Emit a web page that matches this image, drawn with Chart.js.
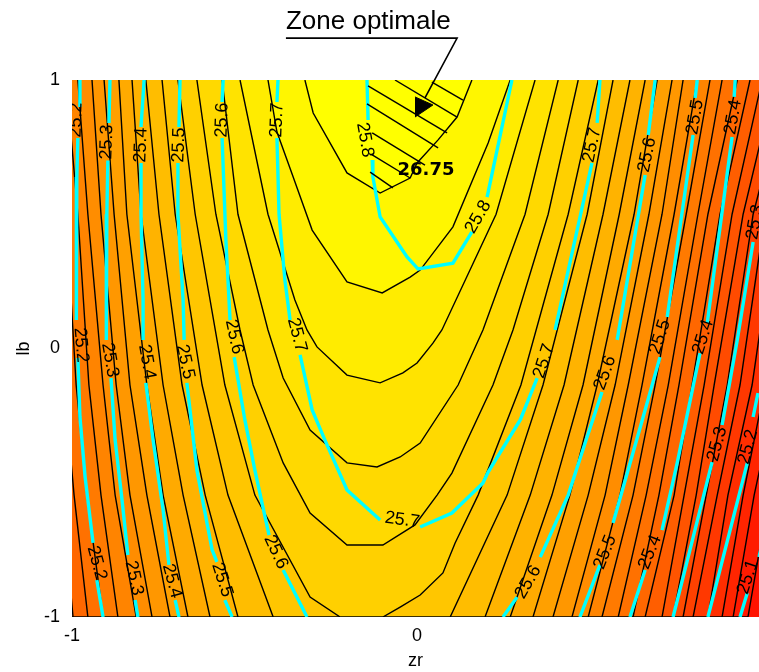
<!DOCTYPE html>
<html>
<head>
<meta charset="utf-8">
<title>Zone optimale</title>
<script src="https://cdn.jsdelivr.net/npm/chart.js@4"></script>
<style>
  html, body { margin: 0; padding: 0; background: #fff; overflow: hidden; }
  canvas { display: block; }
</style>
</head>
<body>
<canvas id="contourChart" width="759" height="672"></canvas>
<script>
// Axis ticks
const xTicks = [-1, 0];
const yTicks = [-1, 0, 1];

// Closed contours around the optimum, inner to outer
const innerContours = [
  [[-.325,1],[-.301,.877],[-.203,.654],[-.107,.579],[-.02,.635],[0,.691],[.061,.777],[.116,.862],[.159,1]],
  [[-.432,1],[-.406,.806],[-.359,.639],[-.304,.441],[-.203,.248],[-.101,.207],[-.02,.266],[.009,.292],[.104,.453],[.206,.765],[.27,1]],
  [[-.513,1],[-.432,.5],[-.354,.181],[-.319,.069],[-.29,.006],[-.203,-.099],[-.107,-.128],[-.041,-.091],[0,-.054],[.046,.02],[.072,.069],[.229,.5],[.342,1]],
  [[-.565,1],[-.519,.5],[-.432,.069],[-.388,-.11],[-.31,-.304],[-.203,-.426],[-.116,-.441],[-.049,-.404],[.009,-.352],[.119,-.136],[.191,.069],[.313,.5],[.409,1]],
  [[-.638,1],[-.583,.5],[-.513,.069],[-.475,-.136],[-.388,-.426],[-.31,-.613],[-.203,-.732],[-.099,-.732],[-.006,-.657],[.058,-.546],[.101,-.464],[.22,-.136],[.278,.069],[.38,.5],[.467,1]],
  [[-.693,1],[-.643,.5],[-.557,-.136],[-.47,-.546],[-.31,-.926],[-.223,-1],[-.099,-1],[-.049,-.963],[.009,-.918],[.075,-.836],[.11,-.725],[.177,-.546],[.301,-.136],[.438,.5],[.525,1]]
];

// Outer contours: x read at each of these lb values
const rowY = [1, .5, -.136, -.546, -1];
const leftBranchX = [
  [-.739,-.701,-.623,-.548,-.417],
  [-.786,-.748,-.681,-.614,-.519],
  [-.826,-.8,-.736,-.678,-.6],
  [-.864,-.841,-.783,-.736,-.664],
  [-.907,-.878,-.832,-.783,-.716],
  [-.942,-.916,-.872,-.832,-.768],
  [-.983,-.954,-.91,-.875,-.814],
  [-1.017,-.983,-.951,-.916,-.867],
  [-1.049,-1.017,-.988,-.957,-.91],
  [-1.081,-1.049,-1.023,-.994,-.954],
  [-1.113,-1.078,-1.058,-1.029,-.997]
];
const rightBranchX = [
  [.568,.493,.365,.261,.096],
  [.617,.539,.426,.328,.197],
  [.661,.586,.481,.391,.27],
  [.696,.629,.522,.443,.336],
  [.739,.672,.574,.496,.394],
  [.771,.71,.612,.545,.449],
  [.812,.745,.652,.588,.496],
  [.849,.78,.69,.626,.536],
  [.884,.814,.728,.664,.583],
  [.928,.843,.759,.701,.626],
  [.965,.878,.797,.745,.661],
  [1,.913,.832,.774,.71],
  [1.038,.945,.861,.809,.742],
  [1.075,.974,.899,.838,.771],
  [1.11,1.009,.936,.87,.8],
  [1.145,1.043,.971,.901,.843],
  [1.183,1.081,1.009,.945,.884],
  [1.22,1.116,1.046,.977,.916],
  [1.255,1.154,1.081,1.02,.959]
];

// Cyan contours of the second response, null = gap left for a label
const cyanLines = [
  [[-.977,1],[-.977,.899],null,[-.983,.784],[-.986,.639],[-.986,.5],[-.988,.3],[-.988,.106],null,[-.983,-.035],[-.977,-.255],[-.962,-.479],[-.939,-.724],null,[-.928,-.862],[-.91,-1]],
  [[-.89,1],[-.893,.84],null,[-.896,.7],[-.899,.5],[-.901,.181],[-.9,.032],null,[-.887,-.11],[-.875,-.341],[-.855,-.564],[-.838,-.769],null,[-.817,-.937],[-.809,-1]],
  [[-.791,1],[-.8,.825],null,[-.8,.691],[-.8,.5],[-.794,.181],[-.794,.032],null,[-.786,-.128],[-.765,-.341],[-.736,-.601],[-.719,-.806],null,[-.701,-.937],[-.69,-1]],
  [[-.687,1],[-.69,.825],null,[-.693,.691],[-.693,.5],[-.678,.181],[-.675,.032],null,[-.667,-.128],[-.638,-.453],[-.594,-.75],[-.58,-.795],null,[-.557,-.937],[-.536,-1]],
  [[-.562,1],[-.565,.918],null,[-.565,.784],[-.554,.404],[-.542,.106],null,[-.53,-.032],[-.499,-.266],[-.47,-.453],[-.429,-.695],null,[-.388,-.825],[-.319,-1]],
  [[-.403,1],[-.406,.918],null,[-.406,.784],[-.4,.5],[-.383,.255],[-.368,.106],null,[-.339,-.024],[-.304,-.229],[-.267,-.341],[-.203,-.527],[-.107,-.639],null,[.009,-.665],[.101,-.613],[.191,-.501],[.206,-.46],[.299,-.266],[.348,-.11],null,[.4,.069],[.507,.691],null,[.522,.84],[.53,1]],
  [[-.145,1],[-.142,.851],null,[-.13,.702],[-.128,.639],[-.107,.49],[-.029,.341],[.003,.296],[.104,.318],[.159,.434],null,[.203,.564],[.275,1]],
  [[.69,1],[.67,.795],null,[.661,.646],[.58,.032],null,[.536,-.162],[.487,-.352],[.438,-.546],[.357,-.777],null,[.29,-.926],[.249,-1]],
  [[.812,1],[.806,.933],null,[.8,.795],[.725,.117],null,[.704,-.032],[.661,-.229],[.568,-.65],null,[.53,-.806],[.472,-1]],
  [[.922,1],[.919,.937],null,[.913,.788],[.841,.095],null,[.82,-.017],[.754,-.426],[.71,-.676],null,[.661,-.825],[.617,-1]],
  [[.974,.397],[.928,.032],[.884,-.285],null,[.855,-.423],[.742,-1]],
  [[.988,-.166],[.974,-.255],null,[.957,-.426],[.843,-1]],
  [[1,-.724],[.991,-.777],null,[.957,-.911],[.936,-1]]
];

// Contour labels
const labelText = ["25.2","25.3","25.4","25.5","25.6","25.7","25.2","25.3","25.4","25.5","25.6","25.7","25.2","25.3","25.4","25.5","25.6","25.7","25.8","25.8","25.7","25.6","25.5","25.4","25.3","25.7","25.6","25.5","25.4","25.3","25.2","25.6","25.5","25.4","25.1"];
const labelX = [-.988,-.899,-.8,-.69,-.565,-.406,-.974,-.89,-.783,-.672,-.53,-.348,-.928,-.82,-.71,-.565,-.409,-.043,-.151,.177,.507,.667,.806,.916,.98,.368,.545,.704,.829,.87,.959,.322,.545,.675,.959];
const labelY = [.851,.769,.758,.758,.851,.851,.013,-.043,-.05,-.05,.043,.05,-.799,-.855,-.866,-.862,-.758,-.639,.777,.49,.758,.721,.862,.862,.471,-.047,-.091,.043,.043,-.356,-.367,-.87,-.758,-.758,-.851];
const labelAngle = [-88,-88,-88,-88,-88,-88,85,80,80,78,78,75,75,78,75,72,65,8,80,-60,-78,-78,-80,-80,-80,-72,-70,-72,-72,-75,-75,-60,-68,-68,-72];

// Hatching of the optimal zone and its callout
const hatchLines = [
  [[.043,.992],[.133,.925]],
  [[-.064,1],[.116,.862]],
  [[-.142,.978],[.087,.803]],
  [[-.145,.911],[.061,.747]],
  [[-.13,.803],[.023,.683]],
  [[-.13,.721],[-.02,.635]],
  [[-.136,.657],[-.07,.598]]
];
const calloutLine = [[-.38,1.156],[.116,1.156],[.023,.933]];
const calloutArrow = [[-.006,.937],[.046,.907],[-.006,.862]];
const calloutText = { text: "Zone optimale", x: -.38, y: 1.19 };
const optimumText = { text: "26.75", x: .026, y: .665 };

const toPoints = list => list.map(p => p ? { x: p[0], y: p[1] } : { x: NaN, y: NaN });

// Build one closed outline per contour, inner to outer
const outlines = innerContours.map(c => c);
rightBranchX.forEach((right, i) => {
  const left = leftBranchX[i]
    ? leftBranchX[i].map((x, r) => [x, rowY[r]])
    : [[-1.2, 1], [-1.2, -1]];
  const rightSide = right.map((x, r) => [x, rowY[r]]).reverse();
  outlines.push(left.concat(rightSide));
});

// Bands go from yellow at the optimum to red at the far side
const bandColor = i => `rgb(255,${Math.round(255 - 9.5 * i)},0)`;

const datasets = [];
outlines.forEach((outline, i) => {
  datasets.push({
    data: toPoints(outline),
    showLine: true,
    fill: "shape",
    backgroundColor: bandColor(i),
    borderColor: "#000",
    borderWidth: 1.4,
    pointRadius: 0,
    order: 10 + i
  });
});
cyanLines.forEach(line => {
  datasets.push({
    data: toPoints(line),
    showLine: true,
    borderColor: "#00FFFF",
    borderWidth: 3.4,
    pointRadius: 0,
    order: 3
  });
});
hatchLines.forEach(line => {
  datasets.push({
    data: toPoints(line),
    showLine: true,
    borderColor: "#000",
    borderWidth: 1.4,
    pointRadius: 0,
    order: 2
  });
});
datasets.push({
  data: toPoints(calloutLine),
  showLine: true,
  borderColor: "#000",
  borderWidth: 1.6,
  pointRadius: 0,
  clip: false,
  order: 1
});
datasets.push({
  data: toPoints(calloutArrow),
  showLine: true,
  fill: "shape",
  backgroundColor: "#000",
  borderColor: "#000",
  borderWidth: 1,
  pointRadius: 0,
  order: 1
});

// Red behind everything outside the last contour
const plotBackground = {
  id: "plotBackground",
  beforeDatasetsDraw(chart) {
    const { ctx, chartArea: a } = chart;
    ctx.save();
    ctx.fillStyle = bandColor(outlines.length);
    ctx.fillRect(a.left, a.top, a.right - a.left, a.bottom - a.top);
    ctx.restore();
  }
};

// Rotated contour labels and the annotations
const textLabels = {
  id: "textLabels",
  afterDatasetsDraw(chart) {
    const { ctx, chartArea: a, scales } = chart;
    ctx.save();
    ctx.fillStyle = "#000";
    ctx.save();
    ctx.beginPath();
    ctx.rect(a.left, a.top, a.right - a.left, a.bottom - a.top);
    ctx.clip();
    ctx.font = "18px 'Liberation Sans'";
    ctx.textAlign = "center";
    ctx.textBaseline = "middle";
    labelText.forEach((t, i) => {
      ctx.save();
      ctx.translate(scales.x.getPixelForValue(labelX[i]), scales.y.getPixelForValue(labelY[i]));
      ctx.rotate(labelAngle[i] * Math.PI / 180);
      ctx.fillText(t, 0, 0);
      ctx.restore();
    });
    ctx.font = "bold 18px 'DejaVu Sans'";
    ctx.fillText(optimumText.text, scales.x.getPixelForValue(optimumText.x), scales.y.getPixelForValue(optimumText.y));
    ctx.restore();
    ctx.font = "26px 'Liberation Sans'";
    ctx.textAlign = "left";
    ctx.textBaseline = "alphabetic";
    ctx.fillText(calloutText.text, scales.x.getPixelForValue(calloutText.x), scales.y.getPixelForValue(calloutText.y));
    ctx.restore();
  }
};

const tickFont = { family: "'Liberation Sans'", size: 18 };

new Chart(document.getElementById("contourChart"), {
  type: "scatter",
  data: { datasets },
  options: {
    responsive: false,
    animation: false,
    layout: { padding: { top: 80 } },
    elements: { line: { tension: 0 } },
    plugins: {
      legend: { display: false },
      tooltip: { enabled: false }
    },
    scales: {
      x: {
        min: -1,
        max: .991,
        grid: { display: false, drawTicks: false },
        border: { display: false },
        afterBuildTicks: s => { s.ticks = xTicks.map(v => ({ value: v })); },
        afterFit: s => { s.height = 55; },
        ticks: { font: tickFont, color: "#000", padding: 8, maxRotation: 0, callback: v => String(v) },
        title: { display: true, text: "zr", font: tickFont, color: "#000", padding: { top: 0, bottom: 0 } }
      },
      y: {
        min: -1,
        max: 1,
        grid: { display: false, drawTicks: false },
        border: { display: false },
        afterBuildTicks: s => { s.ticks = yTicks.map(v => ({ value: v })); },
        afterFit: s => { s.width = 72; },
        ticks: { font: tickFont, color: "#000", padding: 12, callback: v => String(v) },
        title: { display: true, text: "lb", font: tickFont, color: "#000", padding: { top: 13, bottom: 0 } }
      }
    }
  },
  plugins: [plotBackground, textLabels]
});
</script>
</body>
</html>
